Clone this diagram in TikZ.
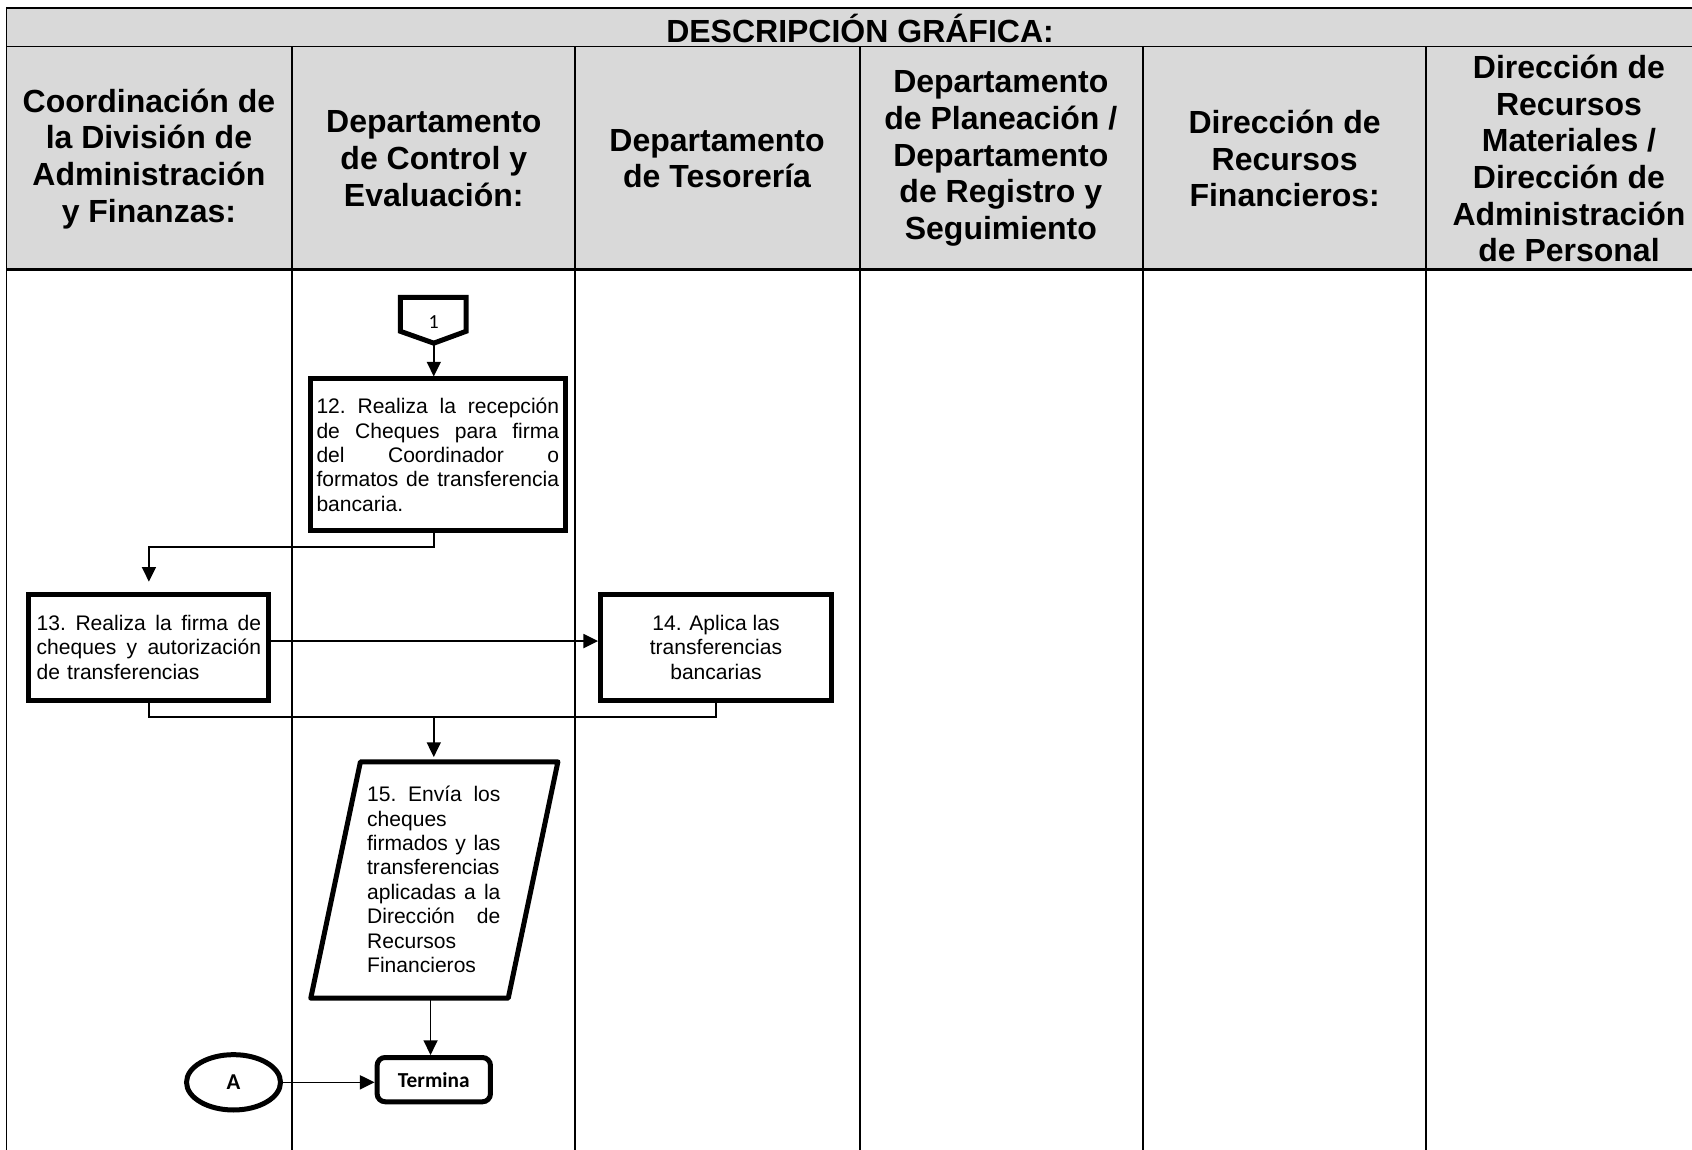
\documentclass[tikz,border=0pt]{standalone}
\usepackage{fontspec}
\setmainfont{Liberation Sans}
\newfontfamily\calib{Carlito}
\usetikzlibrary{arrows.meta,shapes.geometric,calc}
\definecolor{hdrgray}{HTML}{D9D9D9}
\newcommand{\jl}[2]{\leavevmode\hbox to #1{#2}}
\begin{document}
\begin{tikzpicture}[x=0.80931pt,y=-0.80931pt,
  conn/.style={line width=1.2pt},
  arr/.style={line width=1.2pt,-{Triangle[length=11pt,width=10.5pt]}},
  stepbox/.style={draw,fill=white,rectangle,line width=3.75pt,inner sep=0pt,font=\fontsize{15.8}{18.3}\selectfont},
  hd/.style={font=\fontsize{24}{27.5}\selectfont\bfseries,align=center},
  lane/.style={line width=1.4pt}
]
\useasboundingbox (0,0) rectangle (1568,1065);
\begin{scope}
\clip (0,0) rectangle (1568,1065);
\fill[hdrgray] (6,7.4) rectangle (1586,249.6);
\draw[line width=1pt] (6,43.3) -- (1586,43.3);
\draw[line width=2pt] (6,7.4) -- (1586,7.4);
\draw[line width=2pt] (6,249.6) -- (1586,249.6);
\draw[lane] (6,6.4) -- (6,1070);
\draw[lane] (1586,6.4) -- (1586,1070);
\foreach \x in {270.3,533,797,1059,1321.5} \draw[lane] (\x,43.3) -- (\x,1070);
\end{scope}

% headers
\node[hd] (title) at (797,26) {DESCRIPCIÓN GRÁFICA:};
\node[hd] (h1) at (138,147) {Coordinación de\\la División de\\Administración\\y Finanzas:};
\node[hd] (h2) at (402,147) {Departamento\\de Control y\\Evaluación:};
\node[hd] (h3) at (664.5,147) {Departamento\\de Tesorería};
\node[hd] (h4) at (927.5,147) {Departamento\\de Planeación /\\Departamento\\de Registro y\\Seguimiento};
\node[hd] (h5) at (1190.5,147) {Dirección de\\Recursos\\Financieros:};
\node[hd] (h6) at (1454,147) {Dirección de\\Recursos\\Materiales /\\Dirección de\\Administración\\de Personal};

% off-page connector 1
\coordinate (c1s) at (402,318);
\draw[line width=3.75pt,fill=white] (371,275.5) -- (432,275.5) -- (432,307) -- (c1s) -- (371,307) -- cycle;
\node[font=\calib\fontsize{15}{17}\selectfont,inner sep=0pt] (c1) at (402,298) {1};

% step 12
\node[stepbox,minimum width=191pt,minimum height=113.8pt,text width=182pt,align=left] (b12) at (405.75,421.5)
 {\jl{182pt}{12.\hfill Realiza\hfill la\hfill recepción}\\
  \jl{182pt}{de\hfill Cheques\hfill para\hfill firma}\\
  \jl{182pt}{del\hfill Coordinador\hfill o}\\
  \jl{182pt}{formatos\hfill de\hfill transferencia}\\
  bancaria.};

% step 13
\node[stepbox,minimum width=180pt,minimum height=79.9pt,text width=168.3pt,align=left] (b13) at (138,600)
 {\jl{168.3pt}{13.\hfill Realiza\hfill la\hfill firma\hfill de}\\
  \jl{168.3pt}{cheques\hfill y\hfill autorización}\\
  de transferencias};

% step 14
\node[stepbox,minimum width=173pt,minimum height=79.9pt,align=center] (b14) at (663.5,600)
 {14. Aplica las\\transferencias\\bancarias};

% step 15 parallelogram
\coordinate (pTL) at (334,706);
\coordinate (pTR) at (517,706);
\coordinate (pBR) at (471,925);
\coordinate (pBL) at (288,925);
\draw[line width=3.75pt,line join=round,fill=white] (pTL) -- (pTR) -- (pBR) -- (pBL) -- cycle;
\node[font=\fontsize{15.8}{18.3}\selectfont,text width=100pt,align=left,inner sep=0pt] (p15) at (402,815)
 {\jl{100pt}{15.\hfill Envía\hfill los}\\
  cheques\\
  \jl{100pt}{firmados\hfill y\hfill las}\\
  transferencias\\
  \jl{100pt}{aplicadas\hfill a\hfill la}\\
  \jl{100pt}{Dirección\hfill de}\\
  Recursos\\
  Financieros};
\coordinate (p15n) at (402,704);
\coordinate (p15s) at (399,927);

% terminator and connector A
\node[draw,fill=white,rectangle,rounded corners=6pt,line width=3.75pt,minimum width=85pt,minimum height=33.2pt,
  font=\calib\bfseries\fontsize{16}{18}\selectfont] (T) at (402,1000.5) {Termina};
\node[draw,fill=white,ellipse,line width=3.75pt,minimum width=70.5pt,minimum height=41.5pt,inner sep=0pt,
  font=\calib\bfseries\fontsize{17}{19}\selectfont] (A) at (216.4,1003) {A};

% connectors
\coordinate (j1) at (402,507);
\coordinate (m) at (402,664.5);
\draw[arr] (c1s) -- (c1s |- b12.north);
\draw[arr,shorten >=7.5pt] (c1s |- b12.south) -- (j1) -| (b13.north);
\draw[arr] ([yshift=4.8pt]b13.east) -- ([yshift=4.8pt]b13.east -| b14.west);
\draw[conn] (b13.south) |- (m);
\draw[conn] (b14.south) |- (m);
\draw[arr,shorten >=2pt] (m) -- (p15n);
\draw[arr] (p15s) -- (p15s |- T.north);
\draw[arr] (A.east) -- (A.east -| T.west);
\end{tikzpicture}
\end{document}
